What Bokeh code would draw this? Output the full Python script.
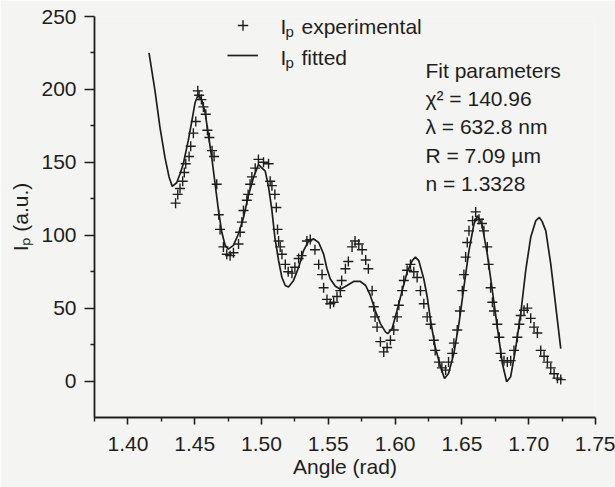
import math
from bokeh.plotting import figure
from bokeh.models import (FixedTicker, NumeralTickFormatter, Label, Legend,
                          LegendItem, Range1d, ColumnDataSource, Title)
from bokeh.embed import file_html
from bokeh.resources import INLINE

# ---------------- data ----------------
exp_angle = [
    1.4357, 1.4373, 1.4390, 1.4410, 1.4422, 1.4433, 1.4458, 1.4470, 1.4490, 1.4508,
    1.4523, 1.4533, 1.4550, 1.4565, 1.4583, 1.4595, 1.4610, 1.4630, 1.4645, 1.4665,
    1.4680, 1.4690, 1.4715, 1.4740, 1.4765, 1.4790, 1.4828, 1.4840, 1.4853, 1.4865,
    1.4890, 1.4900, 1.4915, 1.4928, 1.4953, 1.4977, 1.5015, 1.5053, 1.5065, 1.5078,
    1.5100, 1.5111, 1.5120, 1.5128, 1.5140, 1.5153, 1.5178, 1.5200, 1.5228, 1.5250,
    1.5278, 1.5300, 1.5340, 1.5365, 1.5400, 1.5428, 1.5453, 1.5465, 1.5490, 1.5515,
    1.5540, 1.5565, 1.5590, 1.5600, 1.5628, 1.5650, 1.5678, 1.5700, 1.5728, 1.5753,
    1.5780, 1.5800, 1.5828, 1.5840, 1.5850, 1.5865, 1.5890, 1.5915, 1.5940, 1.5965,
    1.5990, 1.6015, 1.6028, 1.6053, 1.6065, 1.6090, 1.6115, 1.6140, 1.6165, 1.6190,
    1.6215, 1.6240, 1.6265, 1.6290, 1.6300, 1.6328, 1.6350, 1.6378, 1.6400, 1.6428,
    1.6440, 1.6465, 1.6485, 1.6503, 1.6515, 1.6528, 1.6540, 1.6553, 1.6580, 1.6603,
    1.6628, 1.6650, 1.6665, 1.6690, 1.6700, 1.6715, 1.6728, 1.6740, 1.6765, 1.6780,
    1.6790, 1.6815, 1.6840, 1.6865, 1.6890, 1.6915, 1.6930, 1.6940, 1.6965, 1.6990,
    1.7015, 1.7040, 1.7065, 1.7090, 1.7115, 1.7140, 1.7165, 1.7190, 1.7215, 1.7240,
]
exp_intensity = [
    122, 128, 132, 137, 143, 149, 154, 161, 170, 178,
    199, 196, 193, 188, 183, 172, 167, 158, 154, 135,
    114, 104, 92, 87, 86, 88, 94, 102, 109, 117,
    124, 128, 135, 140, 146, 152, 150, 149, 137, 134,
    128, 119, 104, 96, 92, 87, 80, 75, 74, 78,
    84, 86, 96, 97, 90, 80, 73, 64, 56, 53,
    54, 58, 62, 69, 77, 82, 92, 96, 94, 90,
    83, 77, 62, 51, 44, 37, 27, 20, 23, 28,
    35, 44, 52, 62, 69, 76, 80, 75, 71, 62,
    53, 44, 39, 28, 21, 13, 9, 7.5, 13, 19,
    26, 35, 48, 62, 73, 85, 95, 103, 110, 116,
    111, 108, 103, 92, 80, 64, 54, 48, 39, 30,
    19, 14, 13, 14, 21, 30, 39, 45, 48.5, 50,
    43, 37, 33, 21, 17, 13, 9, 5, 2, 1,
]
fit_angle = [
    1.4158, 1.4203, 1.4240, 1.4278, 1.4308, 1.4332, 1.4365, 1.4390, 1.4415, 1.4452,
    1.4478, 1.4503, 1.4527, 1.4552, 1.4578, 1.4602, 1.4628, 1.4653, 1.4678, 1.4703,
    1.4728, 1.4752, 1.4790, 1.4828, 1.4865, 1.4900, 1.4940, 1.4977, 1.5028, 1.5053,
    1.5078, 1.5100, 1.5128, 1.5153, 1.5178, 1.5202, 1.5240, 1.5278, 1.5315, 1.5352,
    1.5390, 1.5428, 1.5465, 1.5490, 1.5515, 1.5553, 1.5590, 1.5640, 1.5690, 1.5740,
    1.5780, 1.5815, 1.5850, 1.5890, 1.5928, 1.5945, 1.5978, 1.6015, 1.6053, 1.6090,
    1.6128, 1.6152, 1.6177, 1.6215, 1.6240, 1.6265, 1.6300, 1.6340, 1.6370, 1.6400,
    1.6440, 1.6478, 1.6515, 1.6553, 1.6590, 1.6615, 1.6650, 1.6690, 1.6728, 1.6765,
    1.6803, 1.6835, 1.6865, 1.6900, 1.6940, 1.6978, 1.7015, 1.7053, 1.7080, 1.7100,
    1.7128, 1.7165, 1.7203, 1.7240,
]
fit_intensity = [
    225, 199, 174, 153, 140, 133.5, 136, 142, 149, 165,
    178, 191, 196.5, 193, 184, 169, 153, 135, 117, 102,
    93, 90.5, 93, 101, 112, 126.5, 139.5, 148.5, 144, 133,
    117, 98.5, 82.5, 71, 65.5, 64.5, 69, 78, 89.5, 96,
    97.5, 95, 87, 77, 70, 65, 63, 65.5, 68.3, 68.3,
    65.5, 58.7, 48.5, 39.4, 33.7, 32.5, 36, 48.5, 62, 74.7,
    82.6, 85, 82.6, 70, 58, 41.7, 23.4, 9.8, 1.8, 5.2,
    19, 39.4, 64.4, 89.5, 107.6, 113.4, 107.6, 87, 62, 37,
    12, -0.5, 3, 21, 46, 76, 98.6, 110, 112.2, 109.5,
    103, 80.3, 50.8, 22.3,
]
x_major_ticks = [1.40, 1.45, 1.50, 1.55, 1.60, 1.65, 1.70, 1.75]
x_minor_ticks = [1.375, 1.425, 1.475, 1.525, 1.575, 1.625, 1.675, 1.725]
y_major_ticks = [0, 50, 100, 150, 200, 250]
y_minor_ticks = [25, 75, 125, 175, 225]
x_title = "Angle (rad)"
y_title = "Iₚ (a.u.)"
legend_texts = ["experimental", "fitted"]
fit_params = ["Fit parameters", "χ² = 140.96", "λ = 632.8 nm", "R = 7.09 µm", "n = 1.3328"]

# ---------------- styling ----------------
FONT = "Liberation Sans"
INK = "#1e1e1e"
BG = "#f4f4f2"
FS = "21px"
SUB = "15px"

W, H = 615, 487
p = figure(width=W, height=H, x_range=Range1d(1.375, 1.75), y_range=Range1d(-25, 250),
           output_backend="svg", toolbar_location=None,
           min_border_left=94, min_border_right=20, min_border_top=16, min_border_bottom=70,
           background_fill_color=BG, border_fill_color=BG, outline_line_color=None)
p.grid.visible = False

exp_src = ColumnDataSource(dict(x=exp_angle, y=exp_intensity))
fit_src = ColumnDataSource(dict(x=fit_angle, y=fit_intensity))
r_fit = p.line("x", "y", source=fit_src, line_color=INK, line_width=1.7)
r_exp = p.scatter("x", "y", source=exp_src, marker="cross", size=10,
                  line_color=INK, line_width=1.4)

for ax in (p.xaxis[0], p.yaxis[0]):
    ax.axis_line_color = INK
    ax.axis_line_width = 1.8
    ax.major_tick_line_color = INK
    ax.major_tick_line_width = 1.6
    ax.minor_tick_line_color = INK
    ax.minor_tick_line_width = 1.4
    ax.major_tick_in = 0
    ax.minor_tick_in = 0
    ax.minor_tick_out = 4
    ax.major_label_text_font = FONT
    ax.major_label_text_font_size = FS
    ax.major_label_text_color = INK

p.xaxis[0].ticker = FixedTicker(ticks=x_major_ticks, minor_ticks=x_minor_ticks)
p.xaxis[0].formatter = NumeralTickFormatter(format="0.00")
p.xaxis[0].major_tick_out = 7
p.xaxis[0].major_label_standoff = 12
p.xaxis[0].axis_label = x_title
p.xaxis[0].axis_label_text_font = FONT
p.xaxis[0].axis_label_text_font_size = FS
p.xaxis[0].axis_label_text_font_style = "normal"
p.xaxis[0].axis_label_text_color = INK
p.xaxis[0].axis_label_standoff = 1

p.yaxis[0].ticker = FixedTicker(ticks=y_major_ticks, minor_ticks=y_minor_ticks)
p.yaxis[0].major_tick_out = 10
p.yaxis[0].major_label_standoff = 8

# y axis title as a side title so it can be shifted along the axis
p.add_layout(Title(text=y_title, align="center", offset=20, standoff=13,
                   text_font=FONT, text_font_size=FS, text_font_style="normal",
                   text_color=INK), "left")

# legend: glyph samples from the real renderers, texts drawn as labels
legend = Legend(items=[LegendItem(label=" ", renderers=[r_exp]),
                       LegendItem(label=" ", renderers=[r_fit])],
                location=(133, 349), padding=0, spacing=4, margin=0,
                glyph_width=31, glyph_height=26, label_height=26, label_standoff=22,
                background_fill_alpha=0, border_line_color=None,
                label_text_font=FONT, label_text_font_size=FS, label_text_color=INK)
p.add_layout(legend)

def lab(text, sx, sy, size=FS):
    p.add_layout(Label(x=sx, y=sy, x_units="screen", y_units="screen", text=text,
                       text_font=FONT, text_font_size=size,
                       text_color=INK, text_align="left", text_baseline="alphabetic"))

# legend texts: I with subscript p, then the word
lab("I", 186, 391)
lab("p", 191, 386, SUB)
lab(legend_texts[0], 207, 391)
lab("I", 186, 360)
lab("p", 191, 355, SUB)
lab(legend_texts[1], 207, 360)

# fit parameter block
for i, t in enumerate(fit_params):
    lab(t, 331, 347 - 28.2 * i)

open("out.html", "w").write(file_html(p, INLINE))
